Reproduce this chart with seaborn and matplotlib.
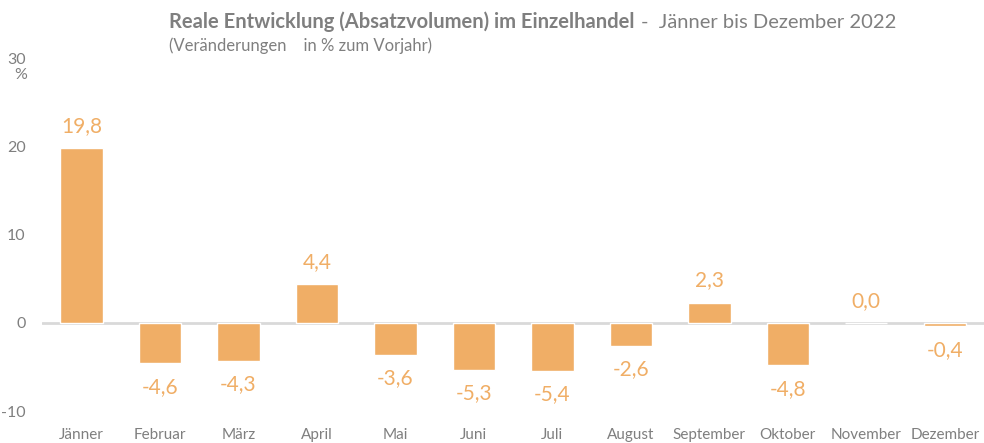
import pandas as pd
import matplotlib.pyplot as plt
import seaborn as sns

months = ['Jänner', 'Februar', 'März', 'April', 'Mai', 'Juni', 'Juli',
          'August', 'September', 'Oktober', 'November', 'Dezember']
values = [19.8, -4.6, -4.3, 4.4, -3.6, -5.3, -5.4, -2.6, 2.3, -4.8, 0.0, -0.4]
yticks = [-10, 0, 10, 20, 30]

df = pd.DataFrame({'month': months, 'value': values})

sns.set_style('white')
plt.rcParams['font.family'] = ['Lato', 'DejaVu Sans']

bar_col = '#F0AE66'
grey = '#7F7F7F'

fig = plt.figure(figsize=(9.84, 4.43), dpi=100)
ax = fig.add_axes([0.043, 0.072, 0.957, 0.797])
sns.barplot(data=df, x='month', y='value', color=bar_col, width=0.54,
            saturation=1, ax=ax)

ax.set_ylim(-10, 30)
ax.set_xlim(-0.5, 11.5)
ax.set_yticks(yticks)
ax.set_yticklabels([str(t) for t in yticks], color=grey, fontsize=11.5)
ax.tick_params(axis='y', length=0, pad=12)
ax.tick_params(axis='x', length=0, pad=12, labelsize=11, labelcolor=grey)
ax.set_xlabel('')
ax.set_ylabel('')
for s in ax.spines.values():
    s.set_visible(False)
ax.axhline(0, color='#D9D9D9', lw=2, zorder=0.5)

# value labels
for i, v in enumerate(values):
    off = 16 if v >= 0 else -17
    ax.annotate(f'{v:.1f}'.replace('.', ','), (i, v), xytext=(0, off),
                textcoords='offset points', ha='center', va='center',
                color=bar_col, fontsize=15)

fig.text(0.021, 0.830, '%', color=grey, fontsize=11.5, ha='center', va='center')

t1 = fig.text(0.172, 0.950, 'Reale Entwicklung (Absatzvolumen) im Einzelhandel',
              color=grey, fontsize=14.5, fontweight='bold', ha='left', va='center')
fig.canvas.draw()
bb = t1.get_window_extent()
x2 = (bb.x1 + 6) / fig.bbox.width
fig.text(x2, 0.950, '-  Jänner bis Dezember 2022',
         color=grey, fontsize=14.5, ha='left', va='center')
fig.text(0.172, 0.896, '(Veränderungen    in % zum Vorjahr)',
         color=grey, fontsize=12, ha='left', va='center')

fig.savefig('out.png', dpi=100)
